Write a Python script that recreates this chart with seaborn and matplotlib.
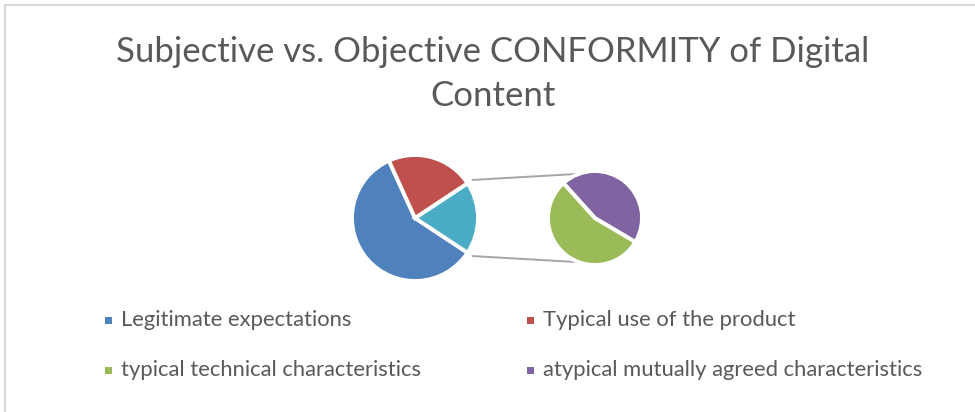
import numpy as np
import matplotlib
matplotlib.use("Agg")
import matplotlib.pyplot as plt
import seaborn as sns
from matplotlib.patches import Rectangle

# -------------------------------------------------------------------
# Data (percent of total)
# -------------------------------------------------------------------
TITLE = "Subjective vs. Objective CONFORMITY of Digital\nContent"

main_labels = ["Legitimate expectations", "Typical use of the product"]
main_values = [58.9, 22.5]

other_labels = ["typical technical characteristics", "atypical mutually agreed characteristics"]
other_values = [10.2, 8.4]

COLORS = {
    "Legitimate expectations": "#4F81BD",
    "Typical use of the product": "#C0504D",
    "Other": "#4BACC6",
    "typical technical characteristics": "#9BBB59",
    "atypical mutually agreed characteristics": "#8064A2",
}
TEXT_COLOR = "#595959"

# -------------------------------------------------------------------
# Figure
# -------------------------------------------------------------------
sns.set_theme(style="white")
plt.rcParams["font.family"] = ["Lato", "DejaVu Sans"]

W, H = 975, 412
fig = plt.figure(figsize=(W / 100, H / 100), dpi=100)
ax = fig.add_axes([0, 0, 1, 1])

# chart border (only top and left edges are visible in the crop)
ax.add_patch(Rectangle((5, -10), W + 10, H + 5, fill=False,
                       edgecolor="#D9D9D9", linewidth=1.5))

# main pie: other slice centred on 0 deg, then typical use, then legitimate
other_total = sum(other_values)
main_center = (415, 194)
main_r = 63
main_slices = [main_values[0], other_total, main_values[1]]
main_cols = [COLORS[main_labels[0]], COLORS["Other"], COLORS[main_labels[1]]]
half_other = 180 * other_total / 100
start_main = half_other + 360 * main_values[1] / 100
ax.pie(main_slices, colors=main_cols, startangle=start_main, counterclock=True,
       center=main_center, radius=main_r, normalize=True,
       wedgeprops=dict(edgecolor="white", linewidth=2.8), frame=True)

# secondary pie
sec_center = (595, 194)
sec_r = 47
ax.pie(other_values, colors=[COLORS[l] for l in other_labels], startangle=132,
       counterclock=True, center=sec_center, radius=sec_r, normalize=True,
       wedgeprops=dict(edgecolor="white", linewidth=2.8), frame=True)

ax.set_xlim(0, W)
ax.set_ylim(0, H)
ax.set_aspect("equal")
ax.axis("off")

# connector lines from the "other" slice to the secondary pie
for sign in (1, -1):
    a0 = np.deg2rad(sign * half_other)
    x0 = main_center[0] + (main_r + 6) * np.cos(a0)
    y0 = main_center[1] + (main_r + 6) * np.sin(a0)
    a1 = np.deg2rad(sign * 110)
    x1 = sec_center[0] + sec_r * np.cos(a1)
    y1 = sec_center[1] + sec_r * np.sin(a1)
    ax.plot([x0, x1], [y0, y1], color="#A6A6A6", linewidth=1.4, zorder=0)

# title
ax.text(493, H - 74, TITLE, ha="center", va="center", fontsize=25,
        color=TEXT_COLOR, linespacing=1.45)

# legend
legend_items = main_labels + other_labels
legend_pos = [(105, 320), (527, 320), (105, 370), (527, 370)]
for label, (lx, ly) in zip(legend_items, legend_pos):
    ax.add_patch(Rectangle((lx, H - ly - 3.5), 7, 7, color=COLORS[label],
                           linewidth=0))
    ax.text(lx + 16, H - ly, label, ha="left", va="center", fontsize=15.8,
            color=TEXT_COLOR)

fig.savefig("out.png", dpi=100)
